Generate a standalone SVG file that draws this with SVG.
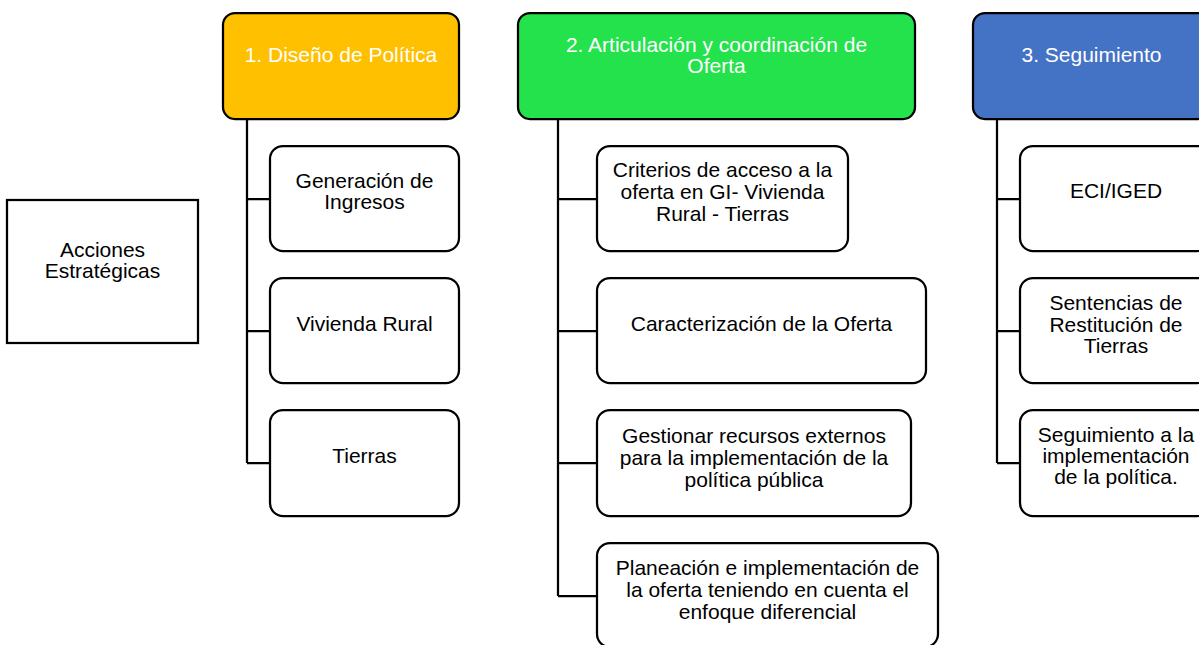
<svg xmlns="http://www.w3.org/2000/svg" width="1199" height="645" viewBox="0 0 1199 645">
<style>
.box{fill:#fff;stroke:#000;stroke-width:2.25}
.hdr{stroke:#000;stroke-width:2.25}
.t{font-family:"Liberation Sans",Arial,sans-serif;font-size:21px;text-anchor:middle;fill:#000}
.tw{font-family:"Liberation Sans",Arial,sans-serif;font-size:21px;text-anchor:middle;fill:#fff}
.ln{fill:none;stroke:#000;stroke-width:2.25}
</style>
<rect width="1199" height="645" fill="#fff"/>
<g id="connectors">
<path class="ln" d="M247,119 V463 M247,199 H270 M247,331 H270 M247,463 H270"/>
<path class="ln" d="M558,119 V596 M558,199 H597 M558,331 H597 M558,463 H597 M558,596 H597"/>
<path class="ln" d="M997,119 V463 M997,199 H1020 M997,331 H1020 M997,463 H1020"/>
</g>
<g id="acciones">
<rect class="box" x="7" y="200" width="191" height="143"/>
<text class="t"><tspan x="102.5" y="257">Acciones</tspan><tspan x="102.5" y="278">Estratégicas</tspan></text>
</g>
<g id="h1">
<rect class="hdr" x="223" y="13" width="236" height="106" rx="12" fill="#FFC000"/>
<text class="tw" x="341" y="62">1. Diseño de Política</text>
</g>
<g id="h2">
<rect class="hdr" x="518" y="13" width="397" height="106" rx="12" fill="#24E24C"/>
<text class="tw"><tspan x="716.5" y="52">2. Articulación y coordinación de</tspan><tspan x="716.5" y="73">Oferta</tspan></text>
</g>
<g id="h3">
<rect class="hdr" x="973" y="13" width="237" height="106" rx="12" fill="#4472C4"/>
<text class="tw" x="1091.5" y="62">3. Seguimiento</text>
</g>
<g id="c1a">
<rect class="box" x="270" y="146" width="189" height="105" rx="13"/>
<text class="t"><tspan x="364.5" y="188">Generación de</tspan><tspan x="364.5" y="209">Ingresos</tspan></text>
</g>
<g id="c1b">
<rect class="box" x="270" y="278" width="189" height="105" rx="13"/>
<text class="t" x="364.5" y="331">Vivienda Rural</text>
</g>
<g id="c1c">
<rect class="box" x="270" y="410" width="189" height="106" rx="13"/>
<text class="t" x="364.5" y="463">Tierras</text>
</g>
<g id="c2a">
<rect class="box" x="597" y="146" width="251" height="105" rx="13"/>
<text class="t"><tspan x="722.5" y="177">Criterios de acceso a la</tspan><tspan x="722.5" y="199">oferta en GI- Vivienda</tspan><tspan x="722.5" y="221">Rural - Tierras</tspan></text>
</g>
<g id="c2b">
<rect class="box" x="597" y="278" width="329" height="105" rx="13"/>
<text class="t" x="761.5" y="331">Caracterización de la Oferta</text>
</g>
<g id="c2c">
<rect class="box" x="597" y="410" width="314" height="106" rx="13"/>
<text class="t"><tspan x="754" y="443">Gestionar recursos externos</tspan><tspan x="754" y="465">para la implementación de la</tspan><tspan x="754" y="487">política pública</tspan></text>
</g>
<g id="c2d">
<rect class="box" x="597" y="543" width="341" height="104" rx="13"/>
<text class="t"><tspan x="767.5" y="575">Planeación e implementación de</tspan><tspan x="767.5" y="597">la oferta teniendo en cuenta el</tspan><tspan x="767.5" y="619">enfoque diferencial</tspan></text>
</g>
<g id="c3a">
<rect class="box" x="1020" y="146" width="190" height="105" rx="13"/>
<text class="t" x="1116" y="198">ECI/IGED</text>
</g>
<g id="c3b">
<rect class="box" x="1020" y="278" width="190" height="105" rx="13"/>
<text class="t"><tspan x="1116" y="310">Sentencias de</tspan><tspan x="1116" y="332">Restitución de</tspan><tspan x="1116" y="353">Tierras</tspan></text>
</g>
<g id="c3c">
<rect class="box" x="1020" y="410" width="190" height="106" rx="13"/>
<text class="t"><tspan x="1116" y="442">Seguimiento a la</tspan><tspan x="1116" y="463">implementación</tspan><tspan x="1116" y="484">de la política.</tspan></text>
</g>
</svg>
